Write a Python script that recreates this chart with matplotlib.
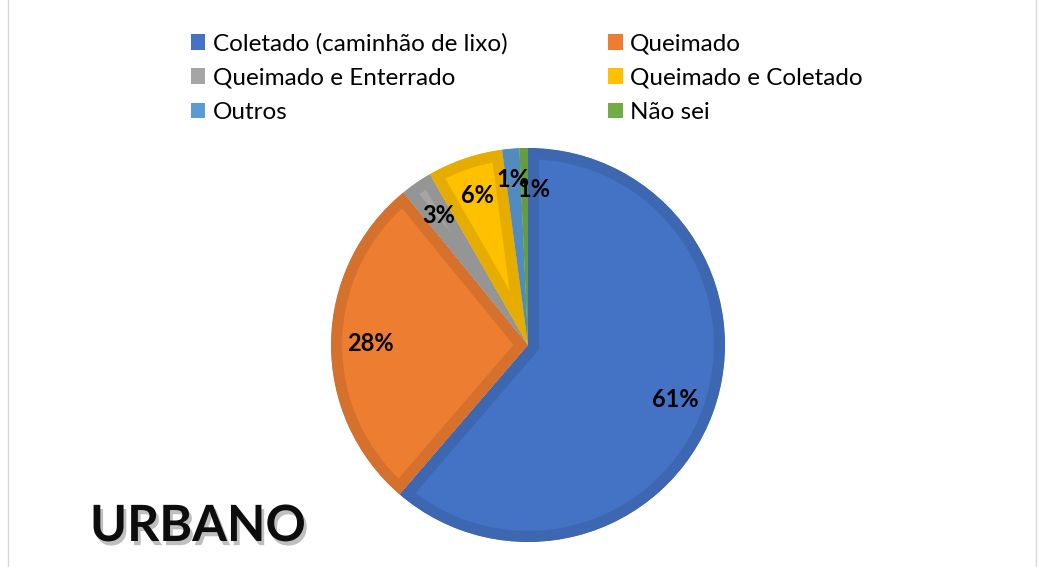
import matplotlib

matplotlib.use("Agg")
import matplotlib.pyplot as plt
import matplotlib.patheffects as pe
from matplotlib.colors import to_rgb
from matplotlib.lines import Line2D
from matplotlib.patches import Patch

CATEGORIES = ["Coletado (caminhão de lixo)", "Queimado", "Queimado e Enterrado",
              "Queimado e Coletado", "Outros", "Não sei"]
SHARES = [61.3, 27.8, 2.6, 6.2, 1.4, 0.7]
COLORS = ["#4472C4", "#ED7D31", "#A5A5A5", "#FFC000", "#5B9BD5", "#70AD47"]
TITLE = "URBANO"

plt.rcParams["font.family"] = ["Lato", "DejaVu Sans"]


def darker(c, f=0.9):
    return tuple(v * f for v in to_rgb(c))


W, H = 1044, 567
fig = plt.figure(figsize=(W / 100, H / 100), dpi=100)

# pie axes placed so the circle lands at the right pixel spot
cx, cy, r = 528, 345, 197
ax = fig.add_axes([(cx - r) / W, (H - cy - r) / H, 2 * r / W, 2 * r / H])
wedges, texts, autotexts = ax.pie(
    SHARES, colors=COLORS, startangle=90, counterclock=False, radius=1.0,
    autopct=lambda p: f"{p:.0f}%", pctdistance=0.8,
    textprops=dict(fontsize=17, fontweight="bold", color="black"),
)
for w, c in zip(wedges, COLORS):
    w.set_edgecolor(darker(c))
    w.set_linewidth(16)
    w.set_joinstyle("miter")
    w.set_clip_on(True)
    w.set_clip_path(w)
# the two small slices: labels sit overlapping like in the source chart
autotexts[4].set_position((-0.075, 0.84))
autotexts[5].set_position((0.03, 0.79))
ax.set_xlim(-1, 1)
ax.set_ylim(-1, 1)
ax.set_aspect("equal")
ax.axis("off")

# legend, row-major order as in the original
order = [0, 2, 4, 1, 3, 5]
handles = [Patch(facecolor=COLORS[i], edgecolor="none") for i in order]
labels = [CATEGORIES[i] for i in order]
fig.legend(handles, labels, ncol=2, loc="upper left",
           bbox_to_anchor=(169 / W, 1 - 11 / H), frameon=False,
           fontsize=17.5, handlelength=0.6, handleheight=0.6, handletextpad=0.3,
           columnspacing=4.15, labelspacing=0.55)

fig.text(90 / W, 1 - 541 / H, TITLE, fontsize=36, fontweight="bold",
         color="#0d0d0d", ha="left", va="baseline",
         path_effects=[pe.withSimplePatchShadow(offset=(2, -3), shadow_rgbFace="gray", alpha=0.5)])

# thin grey frame lines at the sides
for x in (8, 1036):
    fig.add_artist(Line2D([x / W, x / W], [0, 1], color="#d9d9d9", lw=1))

fig.savefig("out.png", dpi=100)
